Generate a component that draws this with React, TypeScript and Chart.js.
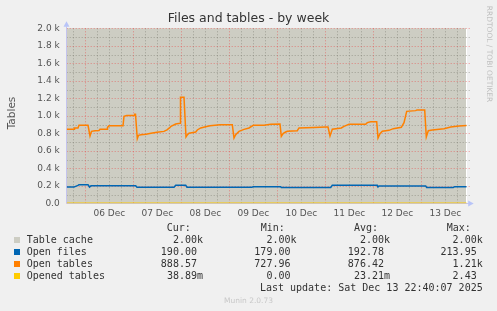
import React, { useEffect, useRef } from "react";
import { Chart, registerables } from "chart.js";

Chart.register(...registerables);

const W = 497;
const H = 311;

const TITLE = "Files and tables - by week";
const Y_TITLE = "Tables";
const SIDE_TEXT = "RRDTOOL / TOBI OETIKER";
const FOOTER = "Munin 2.0.73";
const LAST_UPDATE = "Last update: Sat Dec 13 22:40:07 2025";

// Time axis: hours since window start (Fri Dec 5 14:40), window of 200 h
const WINDOW_HOURS = 200;
const FIRST_MIDNIGHT = 9.333; // 06 Dec 00:00
const dayLabels = ["06 Dec", "07 Dec", "08 Dec", "09 Dec", "10 Dec", "11 Dec", "12 Dec", "13 Dec"];
const dayTicks = dayLabels.map((_, i) => FIRST_MIDNIGHT + 12 + 24 * i);

const yTickValues = [0, 200, 400, 600, 800, 1000, 1200, 1400, 1600, 1800, 2000];
const yTickLabels = ["0.0", "0.2 k", "0.4 k", "0.6 k", "0.8 k", "1.0 k", "1.2 k", "1.4 k", "1.6 k", "1.8 k", "2.0 k"];

const seriesNames = ["Table cache", "Open files", "Open tables", "Opened tables"];
const seriesColors = ["#cdcdc3", "#0066b3", "#ff8000", "#ffcc00"];
const statHeaders = ["Cur:", "Min:", "Avg:", "Max:"];
const statCur = ["2.00k", "190.00", "888.57", "38.89m"];
const statMin = ["2.00k", "179.00", "727.96", "0.00"];
const statAvg = ["2.00k", "192.78", "876.42", "23.21m"];
const statMax = ["2.00k", "213.95", "1.21k", "2.43"];

const tableCacheHours = [0, 200];
const tableCacheValues = [2000, 2000];

const openFilesHours = [0, 3.65, 4.15, 5.65, 6.15, 10.65, 11.4, 12.15, 34.5, 35.15, 53.65, 54.5, 59.5, 60.15, 92.65, 93.3, 107, 107.3, 132, 132.8, 155.3, 155.65, 156.15, 179.5, 180, 193.3, 194, 200];
const openFilesValues = [186, 186, 191, 205, 213, 213, 186, 200, 200, 183, 183, 205, 205, 183, 183, 190, 190, 180, 180, 205, 205, 186, 197, 197, 182, 182, 190, 190];

const openTablesHours = [0, 3.65, 3.9, 5.65, 6.15, 10.65, 11.65, 12.4, 14.15, 16.15, 16.65, 20.15, 20.4, 21.15, 28.15, 28.65, 30, 33.65, 34, 34.4, 35.3, 35.9, 37.15, 39.65, 42.15, 45.15, 48.65, 50.15, 51.65, 52.15, 54.5, 56.65, 56.9, 58.65, 59.65, 60.4, 61.15, 64.5, 65.3, 67, 69.5, 71.65, 76.65, 82.8, 83.65, 84.5, 86.15, 88.65, 91.15, 93.3, 98.65, 102, 106.65, 107.3, 108.3, 109.5, 110.3, 115.3, 116.15, 123.65, 129.5, 130.65, 131.65, 132.8, 137.3, 138.65, 141.15, 149.5, 150.3, 152, 155, 155.65, 156.65, 157.8, 161.15, 163.3, 167.3, 168.65, 170, 174.5, 175.15, 179, 179.8, 180.8, 182.8, 188.65, 192, 196.15, 200];
const openTablesValues = [846, 846, 860, 860, 891, 891, 769, 823, 830, 832, 846, 846, 868, 885, 885, 994, 1003, 1003, 1017, 1017, 738, 777, 783, 790, 800, 811, 822, 840, 868, 880, 906, 914, 1211, 1211, 758, 784, 800, 815, 838, 861, 876, 885, 899, 899, 746, 784, 822, 845, 861, 891, 891, 903, 905, 765, 800, 815, 823, 830, 861, 866, 872, 872, 769, 846, 861, 880, 903, 903, 922, 933, 933, 746, 796, 823, 834, 853, 868, 922, 1051, 1059, 1067, 1067, 758, 830, 838, 853, 872, 883, 888.57];

const openedTablesHours = [0, 40, 80, 120, 160, 200];
const openedTablesValues = [0.02, 0.01, 0.03, 0, 0.02, 0.039];

const toPoints = (hours: number[], values: number[]) => hours.map((h, i) => ({ x: h, y: values[i] }));

const rrdGridPlugin = {
  id: "rrdGrid",
  afterDatasetDraw(chart: any, args: any) {
    if (args.index !== 0) return;
    const { ctx, chartArea: a, scales } = chart;
    const xs = scales.x;
    const ys = scales.y;
    ctx.save();
    ctx.lineWidth = 1;
    ctx.setLineDash([1, 2]);
    // white right edge (canvas not covered by area)
    ctx.fillStyle = "#ffffff";
    ctx.fillRect(Math.round(a.right) - 1, a.top, 1, a.bottom - a.top);
    const hLine = (v: number, color: string) => {
      const py = Math.round(ys.getPixelForValue(v)) + 0.5;
      ctx.strokeStyle = color;
      ctx.beginPath();
      ctx.moveTo(a.left, py);
      ctx.lineTo(a.right + 3, py);
      ctx.stroke();
    };
    const vLine = (h: number, color: string) => {
      const px = Math.round(xs.getPixelForValue(h)) + 0.5;
      ctx.strokeStyle = color;
      ctx.beginPath();
      ctx.moveTo(px, a.top);
      ctx.lineTo(px, a.bottom);
      ctx.stroke();
    };
    const minor = "rgba(120,120,110,0.55)";
    const major = "rgba(240,60,60,0.5)";
    for (let v = 100; v < 2000; v += 200) hLine(v, minor);
    let k = -1;
    for (let h = FIRST_MIDNIGHT - 6; h <= WINDOW_HOURS; h += 6) {
      k++;
      if (h < 0.5) continue;
      if (k % 4 !== 1) vLine(h, minor);
    }
    for (let h = FIRST_MIDNIGHT; h <= WINDOW_HOURS; h += 24) vLine(h, major);
    for (let v = 0; v <= 2000; v += 200) hLine(v, major);
    ctx.setLineDash([]);
    // axes + arrows
    const axis = "#c4c4ee";
    ctx.strokeStyle = axis;
    ctx.fillStyle = "#b8c4f8";
    const lx = Math.round(a.left) - 0.5;
    ctx.beginPath();
    ctx.moveTo(lx, a.bottom);
    ctx.lineTo(lx, a.top - 2);
    ctx.stroke();
    ctx.beginPath();
    ctx.moveTo(lx - 3, a.top - 1.5);
    ctx.lineTo(lx + 3, a.top - 1.5);
    ctx.lineTo(lx, a.top - 7);
    ctx.closePath();
    ctx.fill();
    const by = Math.round(a.bottom) + 0.5;
    ctx.beginPath();
    ctx.moveTo(a.left, by);
    ctx.lineTo(a.right + 2, by);
    ctx.stroke();
    ctx.beginPath();
    ctx.moveTo(a.right + 1.5, by - 3);
    ctx.lineTo(a.right + 1.5, by + 3);
    ctx.lineTo(a.right + 7, by);
    ctx.closePath();
    ctx.fill();
    ctx.restore();
  },
};

type TxtProps = {
  x: number;
  baseline: number;
  size: number;
  text: string;
  mono?: boolean;
  color?: string;
  align?: "left" | "right" | "center";
};

function Txt({ x, baseline, size, text, mono, color, align = "left" }: TxtProps) {
  const style: any = {
    position: "absolute",
    top: baseline - 0.846 * size,
    fontFamily: mono ? "'DejaVu Sans Mono', monospace" : "'DejaVu Sans', sans-serif",
    fontSize: size,
    lineHeight: `${size}px`,
    color: color || "#333",
    whiteSpace: "pre",
  };
  if (align === "left") style.left = x;
  else if (align === "right") style.right = W - x;
  else {
    style.left = x - 200;
    style.width = 400;
    style.textAlign = "center";
  }
  return <div style={style}>{text}</div>;
}

export default function App() {
  const canvasRef = useRef<HTMLCanvasElement | null>(null);

  useEffect(() => {
    const canvas = canvasRef.current;
    if (!canvas) return;
    const tickFont = { family: "'DejaVu Sans', sans-serif", size: 9 };
    const chart = new Chart(canvas, {
      type: "line",
      data: {
        datasets: [
          {
            label: seriesNames[0],
            data: toPoints(tableCacheHours, tableCacheValues),
            borderColor: seriesColors[0],
            backgroundColor: seriesColors[0],
            borderWidth: 1,
            fill: "origin",
            order: 3,
          },
          {
            label: seriesNames[1],
            data: toPoints(openFilesHours, openFilesValues),
            borderColor: seriesColors[1],
            borderWidth: 1.5,
            fill: false,
            order: 2,
          },
          {
            label: seriesNames[2],
            data: toPoints(openTablesHours, openTablesValues),
            borderColor: seriesColors[2],
            borderWidth: 1.5,
            fill: false,
            order: 1,
          },
          {
            label: seriesNames[3],
            data: toPoints(openedTablesHours, openedTablesValues),
            borderColor: seriesColors[3],
            borderWidth: 1.5,
            fill: false,
            order: 0,
          },
        ] as any,
      },
      options: {
        responsive: false,
        animation: false,
        events: [],
        devicePixelRatio: 1,
        layout: { padding: { left: 0, top: 28.3, right: 30.3, bottom: 87.7 } },
        elements: { point: { radius: 0 }, line: { tension: 0 } },
        plugins: {
          legend: { display: false },
          title: { display: false },
          tooltip: { enabled: false },
        },
        scales: {
          x: {
            type: "linear",
            min: 0,
            max: WINDOW_HOURS,
            grid: { display: false, drawTicks: false },
            border: { display: false },
            afterBuildTicks: (s: any) => {
              s.ticks = dayTicks.map((v) => ({ value: v }));
            },
            afterFit: (s: any) => {
              s.height = 20;
            },
            ticks: {
              autoSkip: false,
              maxRotation: 0,
              minRotation: 0,
              padding: 5,
              color: "#555",
              font: tickFont,
              callback: (_v: any, i: number) => dayLabels[i],
            },
          },
          y: {
            type: "linear",
            min: 0,
            max: 2000,
            grid: { display: false, drawTicks: false },
            border: { display: false },
            afterBuildTicks: (s: any) => {
              s.ticks = yTickValues.map((v) => ({ value: v }));
            },
            afterFit: (s: any) => {
              s.width = 66.7;
            },
            ticks: {
              padding: 7,
              color: "#555",
              font: tickFont,
              callback: (_v: any, i: number) => yTickLabels[i],
            },
          },
        },
      } as any,
      plugins: [rrdGridPlugin],
    });
    return () => chart.destroy();
  }, []);

  const rowBase = 231.5;
  const colRight = [203, 296.5, 390, 482.7];
  const headerLeft = [166.7, 260.7, 354, 446.7];
  const stats = [statCur, statMin, statAvg, statMax];
  const fmt = (s: string) => (/[a-z]$/i.test(s) ? s : s + " ");

  return (
    <div style={{ position: "absolute", left: 0, top: 0, width: W, height: H, background: "#f0f0f0", overflow: "hidden" }}>
      <canvas ref={canvasRef} width={W} height={H} style={{ position: "absolute", left: 0, top: 0, width: W, height: H, display: "block" }} />
      <Txt x={248.5} baseline={22.5} size={12.5} text={TITLE} align="center" color="#333" />
      <div
        style={{
          position: "absolute",
          left: 10.5 - 30,
          top: 113 - 7,
          width: 60,
          height: 14,
          lineHeight: "14px",
          textAlign: "center",
          fontFamily: "'DejaVu Sans', sans-serif",
          fontSize: 10.5,
          color: "#555",
          transform: "rotate(-90deg)",
          whiteSpace: "pre",
        }}
      >
        {Y_TITLE}
      </div>
      <div
        style={{
          position: "absolute",
          left: 488.5 - 60,
          top: 53.5 - 5,
          width: 120,
          height: 10,
          lineHeight: "10px",
          textAlign: "center",
          fontFamily: "'DejaVu Sans', sans-serif",
          fontSize: 7.5,
          color: "#c0c0c0",
          transform: "rotate(90deg)",
          whiteSpace: "pre",
        }}
      >
        {SIDE_TEXT}
      </div>
      {statHeaders.map((h, i) => (
        <Txt key={"h" + i} x={headerLeft[i]} baseline={rowBase} size={10} mono text={h} />
      ))}
      {seriesNames.map((name, r) => (
        <React.Fragment key={name}>
          <div
            style={{
              position: "absolute",
              left: 14,
              top: rowBase + 12 * (r + 1) - 6.8,
              width: 6,
              height: 6,
              background: seriesColors[r],
            }}
          />
          <Txt x={26.7} baseline={rowBase + 12 * (r + 1)} size={10} mono text={name} />
          {stats.map((col, c) => (
            <Txt key={c} x={colRight[c]} baseline={rowBase + 12 * (r + 1)} size={10} mono align="right" text={fmt(col[r])} />
          ))}
        </React.Fragment>
      ))}
      <Txt x={482.7} baseline={rowBase + 60} size={10} mono align="right" text={LAST_UPDATE} />
      <Txt x={248.5} baseline={303} size={7.5} text={FOOTER} align="center" color="#c8c8c8" />
    </div>
  );
}
